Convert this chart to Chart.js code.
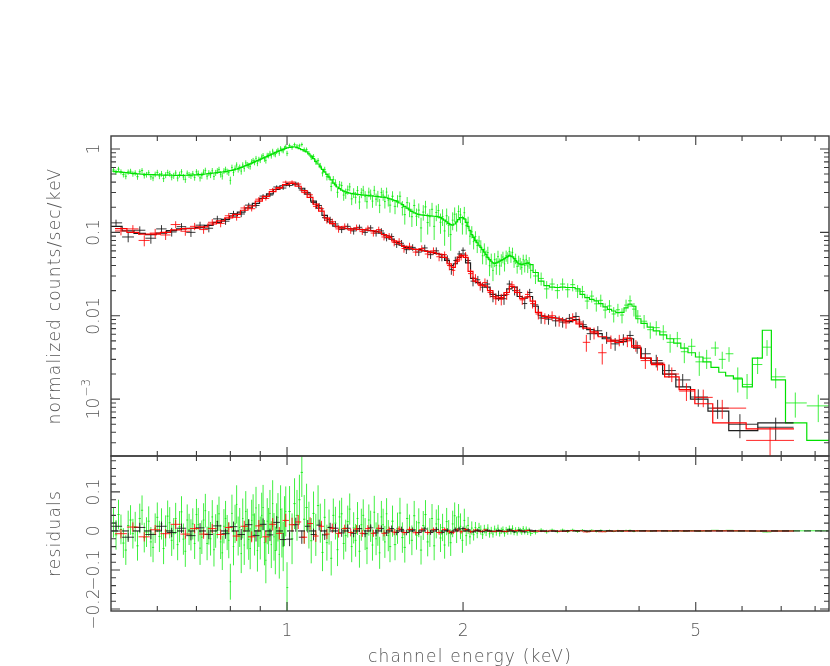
<!DOCTYPE html>
<html>
<head>
<meta charset="utf-8">
<title>Spectrum with residuals</title>
<script src="https://cdn.jsdelivr.net/npm/chart.js@4.4.1/dist/chart.umd.min.js"></script>
<style>
  html, body { margin: 0; padding: 0; background: #fff; }
  #wrap { position: relative; width: 830px; height: 666px; }
  #wrap canvas { position: absolute; left: 0; top: 0; }
</style>
</head>
<body>
<div id="wrap">
  <canvas id="residualChart" width="830" height="666"></canvas>
  <canvas id="spectrumChart" width="830" height="666"></canvas>
</div>
<script>
// ==========================================
// DATA
// ==========================================
// axis ranges / ticks
const xRange = [0.5, 8.45];
const specRange = [2.08e-4, 1.43];
const residRange = [-0.205, 0.192];

const xMajorTicks = [1, 2, 5];
const xMajorLabels = ['1', '2', '5'];
const xMinorTicks = [0.6, 0.7, 0.8, 0.9, 3, 4, 6, 7, 8];
const specTicks = [1, 0.1, 0.01, 0.001];
const specTickLabels = ['1', '0.1', '0.01', ['10', '\u22123']];
const residTicks = [0.1, 0, -0.1, -0.2];
const residTickLabels = ['0.1', '0', '\u22120.1', '\u22120.2'];

// data set 1 (black)
const blackEnergy = [0.51,0.535,0.56,0.585,0.61,0.635,0.66,0.685,0.71,0.735,0.76,0.785,0.81,0.835,0.86,0.885,0.91,0.935,0.96,0.985,
  1.01,1.035,1.06,1.085,1.11,1.135,1.16,1.185,
  1.21,1.24,1.27,1.30,1.33,1.36,1.39,1.42,1.45,1.48,1.51,1.54,1.57,1.60,
  1.64,1.68,1.72,1.76,1.80,1.84,
  1.88,1.91,1.94,1.97,2.00,
  2.04,2.08,2.12,2.16,2.20,
  2.25,2.30,2.35,2.40,2.45,2.50,2.55,2.60,
  2.66,2.72,
  2.80,2.88,2.96,3.04,3.12,
  3.21,3.30,3.40,3.52,3.64,3.76,3.86,3.97,
  4.10,4.28,4.50,4.75,
  5.05,5.45,5.95,6.85];
const blackModel = [0.118,0.104,0.097,0.094,0.098,0.105,0.110,0.112,0.114,0.121,0.132,0.143,0.157,0.175,0.196,0.222,0.255,0.290,0.328,0.362,
  0.386,0.372,0.338,0.288,0.237,0.195,0.160,0.133,
  0.119,0.113,0.111,0.110,0.109,0.107,0.105,0.103,0.098,0.091,0.083,0.076,0.070,0.066,
  0.063,0.062,0.060,0.058,0.056,0.054,
  0.046,0.040,0.042,0.050,0.055,
  0.043,0.028,0.025,0.0235,0.022,
  0.018,0.016,0.0175,0.021,0.022,0.017,0.0163,0.0170,
  0.0130,0.0100,
  0.0096,0.0094,0.0089,0.0085,0.0090,
  0.0074,0.0068,0.0061,0.0053,0.0050,0.0049,0.0053,0.0041,
  0.0031,0.0027,0.0020,0.0014,
  0.00100,0.00072,0.00042,0.00052];
const blackCounts = [0.130,0.088,0.106,0.085,0.110,0.101,0.117,0.100,0.122,0.112,0.145,0.136,0.168,0.166,0.212,0.210,0.272,0.280,0.350,0.340,
  0.365,0.388,0.322,0.300,0.228,0.210,0.150,0.142,
  0.126,0.108,0.118,0.104,0.115,0.100,0.113,0.098,0.104,0.086,0.089,0.072,0.074,0.062,
  0.066,0.058,0.065,0.054,0.060,0.050,
  0.048,0.036,0.046,0.055,0.061,
  0.046,0.026,0.027,0.022,0.024,
  0.017,0.0175,0.016,0.024,0.020,0.019,0.014,0.019,
  0.0135,0.0094,
  0.0091,0.0087,0.0084,0.0093,0.0098,
  0.0078,0.0061,0.0066,0.0055,0.0046,0.0052,0.0058,0.0042,
  0.0035,0.0029,0.0022,0.0017,
  0.00106,0.00078,0.00050,0.00046];
const blackError = [0.012,0.012,0.012,0.012,0.012,0.012,0.012,0.012,0.012,0.012,0.013,0.013,0.013,0.014,0.014,0.015,0.015,0.016,0.016,0.017,
  0.018,0.018,0.017,0.016,0.015,0.014,0.013,0.012,
  0.011,0.010,0.010,0.010,0.009,0.009,0.009,0.009,0.008,0.008,0.008,0.007,0.007,0.007,
  0.006,0.006,0.006,0.006,0.006,0.005,
  0.005,0.005,0.005,0.005,0.005,
  0.004,0.0035,0.003,0.003,0.003,
  0.0025,0.0025,0.0025,0.0025,0.0025,0.002,0.002,0.002,
  0.0016,0.0014,
  0.0013,0.0013,0.0012,0.0012,0.0012,
  0.0010,0.0010,0.0009,0.0009,0.0008,0.0008,0.0008,0.0007,
  0.0006,0.0005,0.0004,0.0003,
  0.00025,0.0002,0.00016,0.00014];

// data set 2 (red)
const redEnergy = [0.52,0.545,0.57,0.595,0.62,0.645,0.67,0.695,0.72,0.745,0.77,0.795,0.82,0.845,0.87,0.895,0.92,0.945,0.97,0.995,
  1.02,1.045,1.07,1.095,1.12,1.145,1.17,1.195,
  1.225,1.255,1.285,1.315,1.345,1.375,1.405,1.435,1.465,1.495,1.525,1.555,1.585,
  1.62,1.66,1.70,1.74,1.78,1.82,1.86,
  1.895,1.925,1.955,1.985,
  2.02,2.06,2.10,2.14,2.18,
  2.225,2.275,2.325,2.375,2.425,2.475,2.525,
  2.58,2.63,2.69,2.76,
  2.84,2.92,3.00,3.08,3.16,
  3.25,3.35,3.46,3.58,3.70,3.82,3.95,
  4.10,4.30,4.55,4.82,
  5.15,5.55,6.70];
const redModel = [0.111,0.100,0.095,0.095,0.100,0.107,0.111,0.112,0.116,0.126,0.137,0.149,0.164,0.184,0.207,0.237,0.270,0.308,0.344,0.373,
  0.386,0.357,0.316,0.263,0.218,0.180,0.148,0.127,
  0.116,0.112,0.110,0.109,0.108,0.106,0.104,0.101,0.094,0.087,0.079,0.073,0.068,
  0.064,0.0625,0.061,0.059,0.057,0.055,0.050,
  0.042,0.038,0.045,0.053,
  0.050,0.034,0.026,0.024,0.0228,
  0.020,0.0168,0.0165,0.019,0.0225,0.019,0.016,
  0.0168,0.0150,0.0110,0.0098,
  0.0095,0.0092,0.0087,0.0088,0.0080,
  0.0071,0.0064,0.0056,0.0051,0.0048,0.0054,0.0042,
  0.0031,0.0026,0.00185,0.00130,
  0.00088,0.00052,0.00044];
const redCounts = [0.104,0.110,0.080,0.098,0.093,0.124,0.103,0.118,0.108,0.132,0.128,0.158,0.151,0.196,0.192,0.250,0.255,0.325,0.338,0.400,
  0.402,0.380,0.300,0.282,0.205,0.192,0.140,0.134,
  0.110,0.118,0.106,0.114,0.102,0.112,0.098,0.108,0.088,0.090,0.076,0.078,0.064,
  0.068,0.058,0.064,0.055,0.060,0.051,0.054,
  0.040,0.035,0.047,0.051,
  0.053,0.032,0.028,0.023,0.025,
  0.019,0.016,0.0158,0.018,0.0235,0.020,0.0155,
  0.018,0.014,0.0105,0.0093,
  0.0100,0.0087,0.0082,0.0095,0.0084,
  0.0048,0.0062,0.0036,0.0049,0.0051,0.0050,0.0044,
  0.0029,0.0027,0.0020,0.00125,
  0.00105,0.00078,0.00032];
const redError = [0.012,0.012,0.012,0.012,0.012,0.012,0.012,0.012,0.012,0.012,0.013,0.013,0.013,0.014,0.014,0.015,0.015,0.016,0.016,0.017,
  0.018,0.018,0.017,0.016,0.015,0.014,0.013,0.012,
  0.011,0.010,0.010,0.010,0.009,0.009,0.009,0.009,0.008,0.008,0.008,0.007,0.007,
  0.007,0.006,0.006,0.006,0.006,0.006,0.005,
  0.005,0.005,0.005,0.005,
  0.005,0.004,0.0035,0.003,0.003,
  0.0025,0.0025,0.0025,0.0025,0.0025,0.0025,0.002,
  0.002,0.0018,0.0015,0.0014,
  0.0013,0.0013,0.0012,0.0012,0.0012,
  0.0011,0.0010,0.0010,0.0009,0.0008,0.0008,0.0007,
  0.0006,0.0005,0.0004,0.0003,
  0.00025,0.0002,0.00014];

// data set 3 (green)
const greenEnergy = [
  0.505,0.51,0.515,0.52,0.525,0.53,0.535,0.54,0.545,0.55,0.555,0.56,0.565,0.57,0.575,0.58,0.585,0.59,0.595,0.60,
  0.605,0.61,0.615,0.62,0.625,0.63,0.635,0.64,0.645,0.65,0.655,0.66,0.665,0.67,0.675,0.68,0.685,0.69,0.695,0.70,
  0.705,0.71,0.715,0.72,0.725,0.73,0.735,0.74,0.745,0.75,0.755,0.76,0.765,0.77,0.775,0.78,0.785,0.79,0.795,0.80,
  0.805,0.81,0.815,0.82,0.825,0.83,0.835,0.84,0.845,0.85,0.855,0.86,0.865,0.87,0.875,0.88,0.885,0.89,0.895,0.90,
  0.905,0.91,0.915,0.92,0.925,0.93,0.935,0.94,0.945,0.95,0.955,0.96,0.965,0.97,0.975,0.98,0.985,0.99,0.995,1.00,
  1.01,1.02,1.03,1.04,1.05,1.06,1.07,1.08,1.09,1.10,
  1.11,1.12,1.13,1.14,1.15,1.16,1.17,1.18,1.19,1.20,
  1.21,1.22,1.23,1.24,1.25,1.26,1.27,1.28,1.29,1.30,
  1.31,1.32,1.33,1.34,1.35,1.36,1.37,1.38,1.39,1.40,
  1.41,1.42,1.43,1.44,1.45,1.46,1.47,1.48,1.49,1.50,
  1.515,1.53,1.545,1.56,1.575,1.59,1.605,1.62,1.635,1.65,
  1.665,1.68,1.695,1.71,1.725,1.74,1.755,1.77,1.785,1.80,
  1.815,1.83,1.845,1.86,1.875,1.89,1.905,1.92,1.935,1.95,
  1.965,1.98,1.995,2.01,2.025,2.04,2.055,2.07,2.085,2.10,
  2.115,2.13,2.145,2.16,2.175,2.19,2.205,2.22,2.235,2.25,
  2.265,2.28,2.295,2.31,2.325,2.34,2.355,2.37,2.385,2.40,
  2.415,2.43,2.445,2.46,2.475,2.49,2.505,2.52,2.535,2.55,
  2.565,2.58,2.595,2.61,
  2.66,2.72,2.78,2.84,2.90,2.96,3.02,3.08,3.14,3.20,3.26,3.32,3.38,3.44,3.50,3.56,3.62,3.68,3.74,3.80,3.86,3.92,3.98,
  4.08,4.18,4.28,4.40,4.52,4.65,4.78,4.92,5.07,5.22,5.40,5.55,5.70,5.90,6.12,6.38,6.62,6.85,7.40,8.10];
const greenModel = [
  0.540,0.535,0.531,0.528,0.524,0.520,0.516,0.512,0.509,0.506,0.503,0.501,0.499,0.497,0.495,0.494,0.492,0.491,0.490,0.489,
  0.488,0.487,0.486,0.486,0.485,0.485,0.484,0.484,0.483,0.483,0.483,0.483,0.483,0.484,0.484,0.485,0.486,0.487,0.488,0.490,
  0.492,0.494,0.496,0.499,0.501,0.504,0.507,0.510,0.512,0.515,0.518,0.521,0.523,0.526,0.529,0.532,0.536,0.540,0.545,0.550,
  0.555,0.561,0.568,0.575,0.583,0.591,0.600,0.610,0.620,0.630,0.641,0.652,0.663,0.675,0.687,0.700,0.712,0.725,0.737,0.750,
  0.763,0.776,0.789,0.802,0.816,0.830,0.845,0.860,0.875,0.890,0.905,0.920,0.935,0.950,0.963,0.976,0.988,1.00,1.015,1.03,
  1.045,1.06,1.055,1.04,1.01,0.98,0.95,0.92,0.87,0.82,
  0.765,0.71,0.66,0.61,0.57,0.53,0.495,0.46,0.425,0.39,
  0.37,0.35,0.335,0.32,0.312,0.305,0.30,0.295,0.292,0.29,
  0.287,0.285,0.283,0.282,0.280,0.279,0.277,0.276,0.274,0.273,
  0.271,0.270,0.268,0.267,0.265,0.264,0.262,0.260,0.256,0.252,
  0.246,0.240,0.232,0.225,0.215,0.205,0.195,0.186,0.178,0.171,
  0.167,0.164,0.162,0.161,0.160,0.159,0.158,0.157,0.156,0.155,
  0.153,0.150,0.145,0.140,0.134,0.128,0.124,0.122,0.126,0.133,
  0.142,0.150,0.150,0.145,0.132,0.118,0.105,0.094,0.087,0.080,
  0.075,0.070,0.066,0.062,0.058,0.054,0.050,0.047,0.045,0.043,
  0.0425,0.043,0.044,0.045,0.046,0.047,0.0485,0.050,0.0515,0.053,
  0.052,0.051,0.0485,0.046,0.044,0.042,0.0415,0.041,0.0415,0.042,
  0.0425,0.043,0.042,0.041,
  0.033,0.026,0.023,0.022,0.0218,0.0220,0.0218,0.0218,0.0210,0.0180,0.0165,0.0157,0.0151,0.0140,0.0128,0.0119,0.0114,0.0109,0.0110,0.0124,0.0138,0.0130,0.0092,
  0.0081,0.0073,0.0066,0.0059,0.0053,0.0047,0.0041,0.0036,0.0032,0.0028,0.0024,0.0021,0.0019,0.00175,0.00140,0.0031,0.0067,0.0017,0.00052,0.00032];
const greenCounts = [
  0.561,0.525,0.573,0.532,0.493,0.471,0.530,0.540,0.502,0.517,0.465,0.533,0.552,0.480,0.492,0.519,0.464,0.449,0.497,0.524,
  0.474,0.505,0.441,0.486,0.523,0.506,0.460,0.477,0.515,0.448,0.494,0.532,0.462,0.432,0.512,0.489,0.476,0.505,0.456,0.532,
  0.508,0.450,0.480,0.527,0.553,0.472,0.515,0.490,0.548,0.467,0.518,0.545,0.567,0.498,0.473,0.544,0.568,0.536,0.521,0.420,
  0.600,0.521,0.586,0.643,0.570,0.600,0.542,0.642,0.584,0.680,0.646,0.630,0.618,0.702,0.728,0.691,0.771,0.675,0.751,0.732,
  0.803,0.836,0.759,0.727,0.841,0.830,0.890,0.825,0.945,0.875,0.855,0.930,0.970,0.890,1.018,0.971,0.948,1.025,1.065,0.885,
  1.095,1.040,1.125,1.080,1.090,1.130,0.980,0.980,0.885,0.795,
  0.810,0.700,0.725,0.630,0.515,0.565,0.465,0.470,0.355,0.430,
  0.390,0.302,0.371,0.364,0.280,0.293,0.324,0.351,0.252,0.298,
  0.263,0.317,0.231,0.298,0.320,0.271,0.233,0.304,0.286,0.237,
  0.319,0.250,0.272,0.211,0.301,0.280,0.234,0.304,0.244,0.212,
  0.271,0.205,0.239,0.271,0.198,0.163,0.227,0.190,0.154,0.210,
  0.156,0.185,0.113,0.175,0.202,0.131,0.154,0.189,0.118,0.173,
  0.183,0.132,0.154,0.104,0.158,0.122,0.094,0.140,0.165,0.136,
  0.178,0.162,0.126,0.172,0.120,0.132,0.090,0.1015,0.0774,0.089,
  0.0694,0.0788,0.0684,0.0524,0.0628,0.0508,0.0572,0.0398,0.0466,0.035,
  0.0473,0.040,0.0512,0.0396,0.0466,0.0506,0.0419,0.0524,0.0497,0.059,
  0.051,0.0575,0.0445,0.0485,0.039,0.0455,0.0425,0.038,0.047,0.040,
  0.047,0.0395,0.0435,0.035,
  0.030,0.028,0.021,0.024,0.0200,0.0240,0.0205,0.0236,0.0198,0.0195,0.0150,0.0172,0.0139,0.0153,0.0117,0.0131,0.0105,0.0118,0.0102,0.0134,0.0151,0.0120,0.0099,
  0.0086,0.0068,0.0072,0.0064,0.0048,0.0053,0.0037,0.0043,0.0028,0.0031,0.0041,0.0030,0.0035,0.0018,0.0015,0.0026,0.0042,0.00185,0.00090,0.00083];
const greenError = [
  0.038,0.038,0.038,0.038,0.038,0.038,0.038,0.038,0.038,0.038,0.038,0.038,0.038,0.038,0.038,0.038,0.038,0.038,0.038,0.038,
  0.040,0.040,0.040,0.040,0.040,0.040,0.040,0.040,0.040,0.040,0.040,0.040,0.040,0.040,0.040,0.040,0.040,0.040,0.040,0.040,
  0.043,0.043,0.043,0.043,0.043,0.043,0.043,0.043,0.043,0.043,0.043,0.043,0.044,0.044,0.044,0.044,0.045,0.045,0.046,0.046,
  0.048,0.048,0.049,0.049,0.050,0.050,0.050,0.051,0.051,0.052,0.052,0.052,0.053,0.053,0.053,0.054,0.054,0.054,0.055,0.055,
  0.058,0.058,0.058,0.059,0.059,0.059,0.060,0.060,0.060,0.061,0.061,0.061,0.062,0.062,0.062,0.063,0.063,0.064,0.064,0.065,
  0.065,0.065,0.065,0.065,0.064,0.063,0.062,0.061,0.060,0.058,
  0.056,0.054,0.052,0.050,0.048,0.047,0.046,0.045,0.044,0.043,
  0.042,0.042,0.042,0.041,0.041,0.041,0.041,0.040,0.040,0.040,
  0.042,0.042,0.042,0.041,0.041,0.041,0.041,0.040,0.040,0.040,
  0.042,0.042,0.042,0.041,0.041,0.041,0.041,0.040,0.040,0.040,
  0.040,0.040,0.040,0.039,0.039,0.039,0.038,0.038,0.038,0.038,
  0.037,0.037,0.037,0.037,0.037,0.037,0.037,0.037,0.037,0.037,
  0.036,0.036,0.035,0.035,0.035,0.034,0.034,0.034,0.034,0.034,
  0.033,0.033,0.032,0.030,0.026,0.022,0.019,0.017,0.015,0.014,
  0.013,0.012,0.012,0.011,0.011,0.010,0.010,0.010,0.009,0.009,
  0.009,0.009,0.009,0.009,0.008,0.008,0.008,0.008,0.008,0.008,
  0.008,0.008,0.007,0.007,0.007,0.007,0.007,0.007,0.007,0.007,
  0.007,0.007,0.007,0.007,
  0.006,0.005,0.005,0.004,0.004,0.004,0.004,0.004,0.0035,0.0033,0.0030,0.0028,0.0027,0.0026,0.0024,0.0023,0.0022,0.0021,0.0021,0.0022,0.0024,0.0022,0.0018,
  0.0016,0.0015,0.0014,0.0013,0.0012,0.0011,0.0010,0.0010,0.0009,0.0008,0.0008,0.0007,0.0007,0.0006,0.0005,0.0006,0.0009,0.0005,0.0003,0.0003];

// ==========================================
// STYLE
// ==========================================
const FONT_FAMILY = '"DejaVu Sans", "Liberation Sans", sans-serif';
const LABEL_FONT = '200 17px ' + FONT_FAMILY;
const SUP_FONT = '200 12px ' + FONT_FAMILY;
const TEXT_COLOR = '#555';
const AXIS_COLOR = '#3c3c3c';
const BLACK = 'rgba(20,20,20,0.85)';
const RED = 'rgba(255,0,0,0.85)';
const GREEN = 'rgba(0,235,0,0.75)';

// ==========================================
// HELPERS
// ==========================================
[['black', blackEnergy, blackModel, blackCounts, blackError],
 ['red', redEnergy, redModel, redCounts, redError],
 ['green', greenEnergy, greenModel, greenCounts, greenError]].forEach(s => {
  const n = s[1].length;
  if (s[2].length !== n || s[3].length !== n || s[4].length !== n) {
    throw new Error(s[0] + ' arrays differ: ' + [n, s[2].length, s[3].length, s[4].length].join(','));
  }
});

// channel edges halfway (in log) between neighbouring channel centres
function binEdges(energy) {
  const n = energy.length, lo = [], hi = [];
  for (let i = 0; i < n; i++) {
    const prev = i > 0 ? Math.sqrt(energy[i - 1] * energy[i]) : null;
    const next = i < n - 1 ? Math.sqrt(energy[i] * energy[i + 1]) : null;
    lo.push(prev !== null ? prev : energy[i] * energy[i] / next);
    hi.push(next !== null ? next : energy[i] * energy[i] / prev);
  }
  return { lo, hi };
}

function specPoints(energy, counts, err, edges) {
  return energy.map((e, i) => ({
    x: e, y: counts[i], xMin: edges.lo[i], xMax: edges.hi[i],
    yMin: counts[i] - err[i], yMax: counts[i] + err[i]
  }));
}

function residPoints(energy, counts, model, err, edges) {
  return energy.map((e, i) => {
    const r = counts[i] - model[i];
    return { x: e, y: r, xMin: edges.lo[i], xMax: edges.hi[i], yMin: r - err[i], yMax: r + err[i] };
  });
}

// model as a histogram: flat across each channel
function modelSteps(model, edges) {
  const pts = [];
  model.forEach((m, i) => {
    pts.push({ x: edges.lo[i], y: m });
    pts.push({ x: edges.hi[i], y: m });
  });
  return pts;
}

const blackEdges = binEdges(blackEnergy);
const redEdges = binEdges(redEnergy);
const greenEdges = binEdges(greenEnergy);

function logMinorTicks(range) {
  const out = [];
  for (let d = -5; d <= 1; d++) {
    for (let k = 2; k <= 9; k++) {
      const v = k * Math.pow(10, d);
      if (v > range[0] && v < range[1]) out.push(v);
    }
  }
  return out;
}

function linMinorTicks(range, step, majors) {
  const out = [];
  for (let i = Math.ceil(range[0] / step); i * step <= range[1]; i++) {
    const v = +(i * step).toFixed(4);
    if (!majors.some(m => Math.abs(m - v) < 1e-6)) out.push(v);
  }
  return out;
}

// ==========================================
// PLUGINS
// ==========================================
function clampPixel(scale, v, area) {
  if (scale.type === 'logarithmic' && v <= 0) return area.bottom + 3;
  return scale.getPixelForValue(v);
}

const errorBarPlugin = {
  id: 'errorBars',
  afterDatasetDraw(chart, args) {
    const ds = chart.data.datasets[args.index];
    if (!ds.errorBars) return;
    const ctx = chart.ctx, a = chart.chartArea;
    const xs = chart.scales.x, ys = chart.scales.y;
    ctx.save();
    ctx.beginPath();
    ctx.rect(a.left, a.top, a.right - a.left, a.bottom - a.top);
    ctx.clip();
    ctx.strokeStyle = ds.borderColor;
    ctx.lineWidth = 1;
    ctx.beginPath();
    ds.data.forEach(p => {
      const px = xs.getPixelForValue(p.x);
      const py = clampPixel(ys, p.y, a);
      ctx.moveTo(xs.getPixelForValue(p.xMin), py);
      ctx.lineTo(xs.getPixelForValue(p.xMax), py);
      ctx.moveTo(px, clampPixel(ys, p.yMin, a));
      ctx.lineTo(px, clampPixel(ys, p.yMax, a));
    });
    ctx.stroke();
    ctx.restore();
  }
};

function drawVerticalText(ctx, label, x, y) {
  ctx.save();
  ctx.translate(x, y);
  ctx.rotate(-Math.PI / 2);
  ctx.textBaseline = 'alphabetic';
  if (typeof label === 'string') {
    ctx.textAlign = 'center';
    ctx.fillText(label, 0, 0);
  } else {
    ctx.textAlign = 'left';
    const w1 = ctx.measureText(label[0]).width;
    const mainFont = ctx.font;
    ctx.font = SUP_FONT;
    const w2 = ctx.measureText(label[1]).width;
    const start = -(w1 + w2 + 1) / 2;
    ctx.font = mainFont;
    ctx.fillText(label[0], start, 0);
    ctx.font = SUP_FONT;
    ctx.fillText(label[1], start + w1 + 1, -9);
  }
  ctx.restore();
}

const framePlugin = {
  id: 'frame',
  afterDraw(chart, args, opts) {
    const ctx = chart.ctx, a = chart.chartArea;
    const xs = chart.scales.x, ys = chart.scales.y;
    ctx.save();

    // zero line of the residual panel
    if (opts.zeroLine) {
      const y0 = ys.getPixelForValue(0);
      ctx.strokeStyle = '#111';
      ctx.lineWidth = 1;
      ctx.setLineDash([7, 4]);
      ctx.beginPath();
      ctx.moveTo(a.left, y0);
      ctx.lineTo(a.right, y0);
      ctx.stroke();
      ctx.setLineDash([]);
    }

    // box
    ctx.strokeStyle = AXIS_COLOR;
    ctx.lineWidth = 1.4;
    ctx.strokeRect(a.left, a.top, a.right - a.left, a.bottom - a.top);

    // inward ticks on all four sides
    ctx.lineWidth = 1.1;
    ctx.beginPath();
    const xTick = (v, len) => {
      const px = xs.getPixelForValue(v);
      ctx.moveTo(px, a.top); ctx.lineTo(px, a.top + len);
      ctx.moveTo(px, a.bottom); ctx.lineTo(px, a.bottom - len);
    };
    const yTick = (v, len) => {
      const py = ys.getPixelForValue(v);
      ctx.moveTo(a.left, py); ctx.lineTo(a.left + len, py);
      ctx.moveTo(a.right, py); ctx.lineTo(a.right - len, py);
    };
    xMajorTicks.forEach(v => xTick(v, 9));
    xMinorTicks.forEach(v => xTick(v, 5));
    opts.yMajor.forEach(v => yTick(v, 9));
    opts.yMinor.forEach(v => yTick(v, 5));
    ctx.stroke();

    // labels
    ctx.fillStyle = TEXT_COLOR;
    ctx.font = LABEL_FONT;
    opts.yMajor.forEach((v, i) => {
      drawVerticalText(ctx, opts.yLabels[i], 99, ys.getPixelForValue(v));
    });
    ctx.letterSpacing = '1.2px';
    drawVerticalText(ctx, opts.yTitle, 60, (a.top + a.bottom) / 2);
    if (opts.xLabels) {
      ctx.letterSpacing = '0px';
      ctx.textAlign = 'center';
      ctx.textBaseline = 'alphabetic';
      xMajorTicks.forEach((v, i) => {
        ctx.fillText(xMajorLabels[i], xs.getPixelForValue(v), 636);
      });
      ctx.letterSpacing = '1.2px';
      ctx.fillText(opts.xTitle, (a.left + a.right) / 2, 662);
    }
    ctx.restore();
  }
};

// ==========================================
// CHARTS
// ==========================================
function baseOptions(yScale, padding, frameOpts) {
  return {
    responsive: false,
    animation: false,
    events: [],
    layout: { padding: padding },
    plugins: {
      legend: { display: false },
      tooltip: { enabled: false },
      frame: frameOpts
    },
    scales: {
      x: { type: 'logarithmic', min: xRange[0], max: xRange[1], bounds: 'data', display: false },
      y: yScale
    }
  };
}

function modelDataset(data, color, order) {
  return { type: 'line', data: data, borderColor: color, borderWidth: 1.2, pointRadius: 0,
           fill: false, tension: 0, showLine: true, order: order };
}

function pointDataset(data, color, order) {
  return { type: 'scatter', data: data, borderColor: color, pointRadius: 0,
           showLine: false, errorBars: true, order: order };
}

new Chart(document.getElementById('spectrumChart'), {
  type: 'scatter',
  data: {
    datasets: [
      modelDataset(modelSteps(redModel, redEdges), 'rgb(255,0,0)', 0),
      pointDataset(specPoints(redEnergy, redCounts, redError, redEdges), RED, 1),
      modelDataset(modelSteps(blackModel, blackEdges), 'rgb(30,30,30)', 2),
      pointDataset(specPoints(blackEnergy, blackCounts, blackError, blackEdges), BLACK, 3),
      modelDataset(modelSteps(greenModel, greenEdges), 'rgb(0,225,0)', 4),
      pointDataset(specPoints(greenEnergy, greenCounts, greenError, greenEdges), GREEN, 5)
    ]
  },
  options: baseOptions(
    { type: 'logarithmic', min: specRange[0], max: specRange[1], bounds: 'data', display: false },
    { left: 111, right: 1, top: 136, bottom: 210 },
    { yMajor: specTicks, yMinor: logMinorTicks(specRange), yLabels: specTickLabels,
      yTitle: 'normalized counts/sec/keV', xLabels: false }
  ),
  plugins: [errorBarPlugin, framePlugin]
});

new Chart(document.getElementById('residualChart'), {
  type: 'scatter',
  data: {
    datasets: [
      pointDataset(residPoints(redEnergy, redCounts, redModel, redError, redEdges), RED, 1),
      pointDataset(residPoints(blackEnergy, blackCounts, blackModel, blackError, blackEdges), BLACK, 3),
      pointDataset(residPoints(greenEnergy, greenCounts, greenModel, greenError, greenEdges), GREEN, 5)
    ]
  },
  options: baseOptions(
    { type: 'linear', min: residRange[0], max: residRange[1], bounds: 'data', display: false },
    { left: 111, right: 1, top: 456, bottom: 55 },
    { yMajor: residTicks, yMinor: linMinorTicks(residRange, 0.02, residTicks), yLabels: residTickLabels,
      yTitle: 'residuals', xLabels: true, xTitle: 'channel energy (keV)', zeroLine: true }
  ),
  plugins: [errorBarPlugin, framePlugin]
});
</script>
</body>
</html>
